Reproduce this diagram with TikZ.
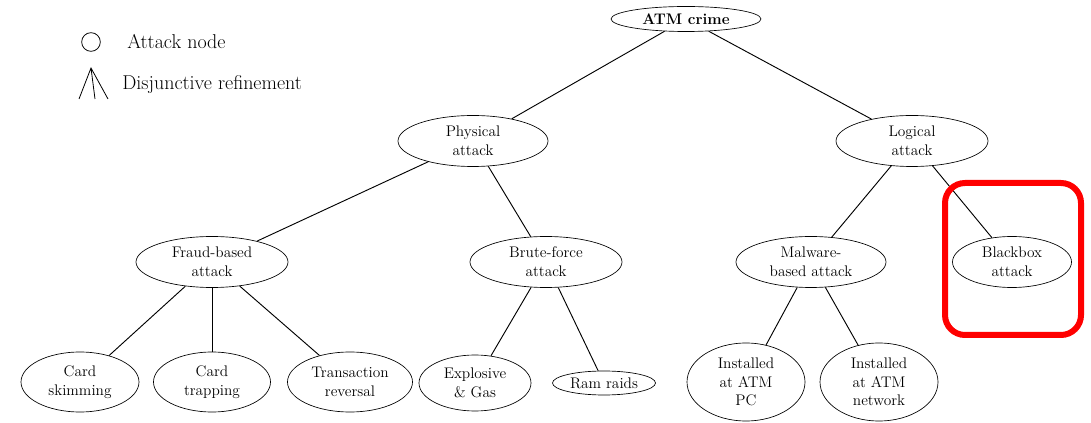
\documentclass[tikz,border=0pt]{standalone}
\usetikzlibrary{shapes.geometric}
\begin{document}
\begin{tikzpicture}[x=0.75pt,y=-0.75pt,
  every node/.style={inner sep=0pt},
  attack/.style={ellipse,draw,align=center,line width=0.5pt,
    font=\fontsize{11.5}{14}\selectfont},
  edge/.style={line width=0.7pt},
  legendtext/.style={anchor=west,font=\fontsize{15}{17}\selectfont},
  highlight/.style={draw=red,line width=4.5pt,rounded corners=15pt}]
\useasboundingbox (0,0) rectangle (1091,423);

% legend
\node[circle,draw,line width=0.6pt,minimum size=14pt] (legcirc) at (91,42) {};
\node[legendtext] (legnode) at (127,42) {Attack node};
\coordinate (apex) at (91,68);
\coordinate (legl) at (79,99);
\coordinate (legm) at (95,99);
\coordinate (legr) at (108,99);
\draw[line width=0.6pt] (legl) -- (apex) -- (legr) (apex) -- (legm);
\node[legendtext] (legdisj) at (122,85) {Disjunctive refinement};

% tree nodes
\node[attack,minimum width=112.5pt,minimum height=18.75pt,font=\fontsize{11.5}{14}\selectfont\bfseries] (atm) at (686,19) {ATM crime};
\node[attack,minimum width=112.5pt,minimum height=38.25pt] (phys) at (473,141) {Physical\\attack};
\node[attack,minimum width=114pt,minimum height=38.25pt] (logi) at (912,141) {Logical\\attack};
\node[attack,minimum width=114pt,minimum height=38.25pt] (fraud) at (212,262) {Fraud-based\\attack};
\node[attack,minimum width=114pt,minimum height=38.25pt] (brute) at (546,262) {Brute-force\\attack};
\node[attack,minimum width=112.5pt,minimum height=38.25pt] (malw) at (811,262) {Malware-\\based attack};
\node[attack,minimum width=89.25pt,minimum height=38.25pt] (bbox) at (1012,262) {Blackbox\\attack};
\node[attack,minimum width=88.5pt,minimum height=45pt] (skim) at (80,382) {Card\\skimming};
\node[attack,minimum width=87.75pt,minimum height=45pt] (trap) at (212,382) {Card\\trapping};
\node[attack,minimum width=93.75pt,minimum height=45pt] (trans) at (350,382) {Transaction\\reversal};
\node[attack,minimum width=84pt,minimum height=42pt] (expl) at (475,383) {Explosive\\\& Gas};
\node[attack,minimum width=77.25pt,minimum height=18pt] (ram) at (604,383) {Ram raids};
\node[attack,minimum width=88.5pt,minimum height=58.5pt] (atmpc) at (746,382) {Installed\\at ATM\\PC};
\node[attack,minimum width=88.5pt,minimum height=58.5pt] (atmnet) at (879,382) {Installed\\at ATM\\network};

% refinements
\draw[edge] (atm) -- (phys);
\draw[edge] (atm) -- (logi);
\draw[edge] (phys) -- (fraud);
\draw[edge] (phys) -- (brute);
\draw[edge] (logi) -- (malw);
\draw[edge] (logi) -- (bbox);
\draw[edge] (fraud) -- (skim);
\draw[edge] (fraud) -- (trap);
\draw[edge] (fraud) -- (trans);
\draw[edge] (brute) -- (expl);
\draw[edge] (brute) -- (ram);
\draw[edge] (malw) -- (atmpc);
\draw[edge] (malw) -- (atmnet);

% highlight around the blackbox attack
\coordinate (hlA) at (945,183);
\coordinate (hlB) at (1081,335);
\draw[highlight] (hlA) rectangle (hlB);
\end{tikzpicture}
\end{document}
